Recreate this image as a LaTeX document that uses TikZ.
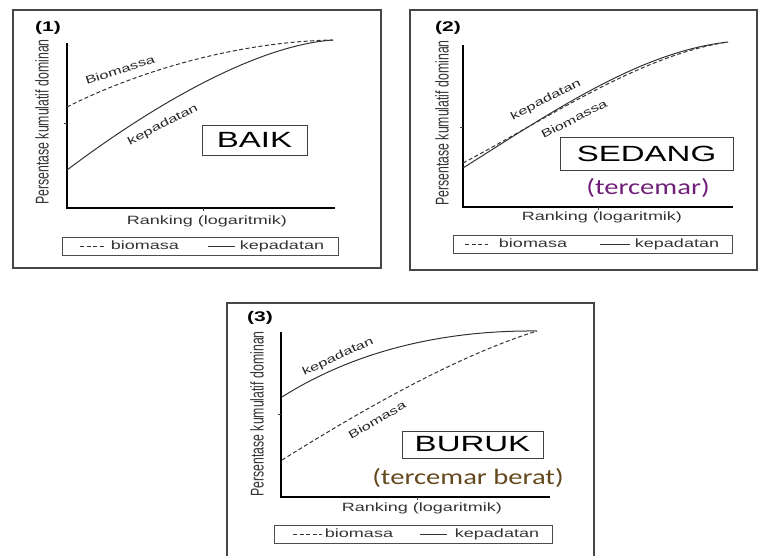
\documentclass[tikz,border=0pt]{standalone}
\usepackage{fontspec}
\usepackage{graphicx}
\newfontfamily\plotfont[FakeStretch=1.5]{Liberation Sans}
\newfontfamily\axisfont{Liberation Sans}
\newfontfamily\notefont[FakeStretch=1.3]{Carlito}
\definecolor{tercemarcol}{RGB}{112,32,120}
\definecolor{beratcol}{RGB}{100,72,30}
\definecolor{framecol}{RGB}{70,70,70}

\begin{document}
\begin{tikzpicture}[x=1pt,y=-1pt]

\tikzstyle{panelbox} = [draw=framecol, line width=1.4pt]
\tikzstyle{axisline} = [line width=1.8pt, black]
\tikzstyle{densline} = [line width=1pt, black!80]
\tikzstyle{biomline} = [line width=1pt, black!80, dash pattern=on 4pt off 2.5pt]
\tikzstyle{tickline} = [line width=0.8pt, black!75]
\tikzstyle{gradebox} = [draw=black!75, line width=1pt, inner sep=0pt, font=\plotfont\fontsize{22}{24}\selectfont]
\tikzstyle{notetext} = [inner sep=0pt, font=\notefont\fontsize{22}{24}\selectfont]
\tikzstyle{smalltext} = [inner sep=0pt, text height=8.6pt, text depth=2.5pt, font=\plotfont\fontsize{12}{14}\selectfont, text=black!80]
\tikzstyle{curvetext} = [inner sep=0pt, font=\plotfont\fontsize{11}{13}\selectfont, text=black!85]
\tikzstyle{ytext} = [inner sep=0pt, rotate=90, font=\axisfont\fontsize{12.3}{14}\selectfont, text=black!80]
\tikzstyle{legendbox} = [draw=black!70, line width=0.9pt, inner sep=0pt]
\tikzstyle{panelno} = [inner sep=0pt, font=\plotfont\bfseries\fontsize{14}{16}\selectfont]

\useasboundingbox (0,0) rectangle (760,555);

% (1) baik
\begin{scope}
  \coordinate (p1a) at (13,10);
  \coordinate (p1b) at (381,268);
  \draw [panelbox] (p1a) rectangle (p1b);
  \node [panelno] (n1) at (48,28) {(1)};
  \coordinate (o1) at (67,208);
  \coordinate (y1) at (67,43);
  \coordinate (x1) at (335,208);
  \draw [axisline] (y1) -- (o1) -- (x1);
  \draw [tickline] (67,123) -- ++(-3,0);
  \draw [tickline] (203,208) -- ++(0,3);
  \draw [biomline] (67,107) .. controls (130,75) and (230,42) .. (333,40);
  \draw [densline] (67,170) .. controls (160,100) and (260,45) .. (333,40);
  \node [curvetext, rotate=18] (c1b) at (120,70) {Biomassa};
  \node [curvetext, rotate=27] (c1k) at (163,125) {kepadatan};
  \node [ytext] (yl1) at (42,122) {\scalebox{1}[1.5]{Persentase kumulatif dominan}};
  \node [smalltext] (xl1) at (207,221) {Ranking (logaritmik)};
  \node [gradebox, minimum width=105pt, minimum height=30pt] (g1) at (254.5,140) {BAIK};
  \node [legendbox, minimum width=276pt, minimum height=18pt] (leg1) at (200,246) {};
  \coordinate (l1a) at (80,246);
  \coordinate (l1b) at (105,246);
  \coordinate (l1c) at (208,246);
  \coordinate (l1d) at (235,246);
  \draw [biomline] (l1a) -- (l1b);
  \draw [densline] (l1c) -- (l1d);
  \node [smalltext] (lt1b) at (145,246) {biomasa};
  \node [smalltext] (lt1k) at (282,246) {kepadatan};
\end{scope}

% (2) sedang
\begin{scope}
  \coordinate (p2a) at (410,10);
  \coordinate (p2b) at (757,270);
  \draw [panelbox] (p2a) rectangle (p2b);
  \node [panelno] (n2) at (448,28) {(2)};
  \coordinate (o2) at (463,207);
  \coordinate (y2) at (463,45);
  \coordinate (x2) at (733,207);
  \draw [axisline] (y2) -- (o2) -- (x2);
  \draw [tickline] (463,127) -- ++(-3,0);
  \draw [tickline] (598,207) -- ++(0,3);
  \draw [biomline] (463,163) .. controls (545,120) and (640,55) .. (728,42);
  \draw [densline] (463,168) .. controls (555,110) and (640,52) .. (728,42);
  \node [curvetext, rotate=27] (c2k) at (546,100) {kepadatan};
  \node [curvetext, rotate=27] (c2b) at (574,119) {Biomassa};
  \node [ytext] (yl2) at (442,123) {\scalebox{1}[1.5]{Persentase kumulatif dominan}};
  \node [smalltext] (xl2) at (602,217) {Ranking (logaritmik)};
  \node [gradebox, minimum width=173pt, minimum height=33pt] (g2) at (646.5,153.5) {SEDANG};
  \node [notetext, text=tercemarcol] (t2) at (648,188) {(tercemar)};
  \node [legendbox, minimum width=279pt, minimum height=18pt] (leg2) at (592.5,244) {};
  \coordinate (l2a) at (465,244);
  \coordinate (l2b) at (488,244);
  \coordinate (l2c) at (600,244);
  \coordinate (l2d) at (630,244);
  \draw [biomline] (l2a) -- (l2b);
  \draw [densline] (l2c) -- (l2d);
  \node [smalltext] (lt2b) at (533,244) {biomasa};
  \node [smalltext] (lt2k) at (677,244) {kepadatan};
\end{scope}

% (3) buruk
\begin{scope}
  \coordinate (p3a) at (227,560);
  \coordinate (p3b) at (227,303);
  \coordinate (p3c) at (594,303);
  \coordinate (p3d) at (594,560);
  \draw [panelbox] (p3a) -- (p3b) -- (p3c) -- (p3d);
  \node [panelno] (n3) at (260,318) {(3)};
  \coordinate (o3) at (281,497);
  \coordinate (y3) at (281,332);
  \coordinate (x3) at (550,497);
  \draw [axisline] (y3) -- (o3) -- (x3);
  \draw [tickline] (281,414) -- ++(-3,0);
  \draw [tickline] (417,497) -- ++(0,3);
  \draw [densline] (282,397) .. controls (345,357) and (430,330) .. (537,331);
  \draw [biomline] (282,460) .. controls (370,405) and (460,355) .. (537,331);
  \node [curvetext, rotate=25] (c3k) at (338,357) {kepadatan};
  \node [curvetext, rotate=30] (c3b) at (377,420) {Biomasa};
  \node [ytext] (yl3) at (257,414) {\scalebox{1}[1.5]{Persentase kumulatif dominan}};
  \node [smalltext] (xl3) at (422,508) {Ranking (logaritmik)};
  \node [gradebox, minimum width=141pt, minimum height=27pt] (g3) at (472.5,444.5) {BURUK};
  \node [notetext, text=beratcol] (t3) at (468,478) {(tercemar berat)};
  \node [legendbox, minimum width=278pt, minimum height=18pt] (leg3) at (413,534) {};
  \coordinate (l3a) at (293,534);
  \coordinate (l3b) at (322,534);
  \coordinate (l3c) at (420,534);
  \coordinate (l3d) at (447,534);
  \draw [biomline] (l3a) -- (l3b);
  \draw [densline] (l3c) -- (l3d);
  \node [smalltext] (lt3b) at (359,534) {biomasa};
  \node [smalltext] (lt3k) at (497,534) {kepadatan};
\end{scope}

\end{tikzpicture}
\end{document}
